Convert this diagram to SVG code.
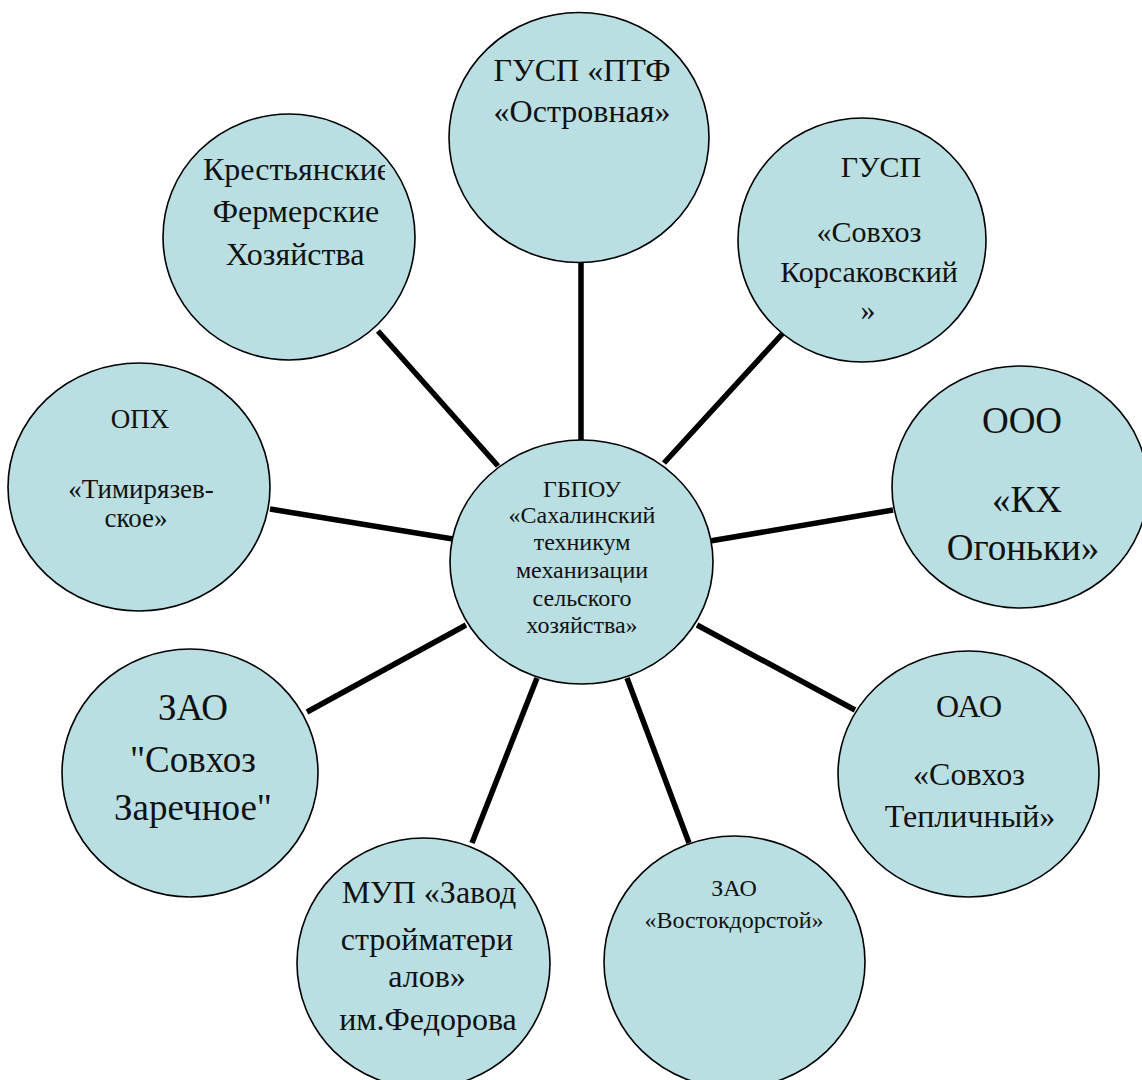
<svg xmlns="http://www.w3.org/2000/svg" width="1142" height="1080" viewBox="0 0 1142 1080">
<style>
.n{fill:#b9dfe3;stroke:#000;stroke-width:1.6}
.c line{stroke:#000;stroke-width:5.5}
.t{fill:#111;text-anchor:middle}
</style>
<defs>
<clipPath id="kfx"><rect x="150" y="140" width="235" height="150"/></clipPath>
</defs>
<rect width="1142" height="1080" fill="#fff"/>
<g class="c">
<line x1="581" y1="262" x2="581" y2="441"/>
<line x1="378" y1="331" x2="498" y2="466"/>
<line x1="270" y1="509" x2="453" y2="539"/>
<line x1="784" y1="332" x2="664" y2="463"/>
<line x1="893" y1="510" x2="710" y2="541"/>
<line x1="855" y1="710" x2="697" y2="625"/>
<line x1="307" y1="712" x2="466" y2="625"/>
<line x1="537" y1="678" x2="472" y2="843"/>
<line x1="627" y1="678" x2="689" y2="843"/>
</g>
<g font-family="Liberation Serif, DejaVu Serif, Noto Serif, serif">
<g id="center">
<ellipse class="n" cx="581.5" cy="562" rx="131.5" ry="122"/>
<text class="t" font-size="24"><tspan x="582" y="497">ГБПОУ</tspan><tspan x="582" y="523">«Сахалинский</tspan><tspan x="582" y="550">техникум</tspan><tspan x="582" y="578">механизации</tspan><tspan x="582" y="606">сельского</tspan><tspan x="582" y="633">хозяйства»</tspan></text>
</g>
<g id="ptf">
<ellipse class="n" cx="579" cy="137.5" rx="130" ry="125"/>
<text class="t" font-size="32"><tspan x="582" y="81">ГУСП «ПТФ</tspan><tspan x="582" y="122">«Островная»</tspan></text>
</g>
<g id="kfh">
<ellipse class="n" cx="289" cy="237" rx="126" ry="123"/>
<text class="t" font-size="32" clip-path="url(#kfx)"><tspan x="297" y="180">Крестьянские</tspan><tspan x="296" y="222">Фермерские</tspan><tspan x="295" y="265">Хозяйства</tspan></text>
</g>
<g id="korsakov">
<ellipse class="n" cx="862" cy="240" rx="124" ry="122"/>
<text class="t" font-size="30"><tspan x="881" y="177">ГУСП</tspan><tspan x="869" y="242">«Совхоз</tspan><tspan x="869" y="282">Корсаковский</tspan><tspan x="868" y="320">»</tspan></text>
</g>
<g id="ogonki">
<ellipse class="n" cx="1020" cy="487" rx="128" ry="121"/>
<text class="t" font-size="37"><tspan x="1022" y="433">ООО</tspan><tspan x="1027" y="512">«КХ</tspan><tspan x="1023" y="560">Огоньки»</tspan></text>
</g>
<g id="opx">
<ellipse class="n" cx="139" cy="487" rx="131" ry="124"/>
<text class="t" font-size="27"><tspan x="140" y="428">ОПХ</tspan><tspan x="141" y="498">«Тимирязев-</tspan><tspan x="136" y="527">ское»</tspan></text>
</g>
<g id="zarechnoe">
<ellipse class="n" cx="190" cy="773" rx="128" ry="124"/>
<text class="t" font-size="37"><tspan x="193" y="720">ЗАО</tspan><tspan x="193" y="772">"Совхоз</tspan><tspan x="193" y="820">Заречное"</tspan></text>
</g>
<g id="teplichny">
<ellipse class="n" cx="968.5" cy="774" rx="130.5" ry="123"/>
<text class="t" font-size="32"><tspan x="969" y="717">ОАО</tspan><tspan x="969" y="785">«Совхоз</tspan><tspan x="970" y="827">Тепличный»</tspan></text>
</g>
<g id="vostok">
<ellipse class="n" cx="734.5" cy="962" rx="130.5" ry="126"/>
<text class="t" font-size="24"><tspan x="734" y="896">ЗАО</tspan><tspan x="734" y="928">«Востокдорстой»</tspan></text>
</g>
<g id="mup">
<ellipse class="n" cx="423.5" cy="963" rx="126.5" ry="125"/>
<text class="t" font-size="32"><tspan x="429" y="903">МУП «Завод</tspan><tspan x="427" y="950">стройматери</tspan><tspan x="427" y="987">алов»</tspan><tspan x="428" y="1030">им.Федорова</tspan></text>
</g>
</g>
</svg>
